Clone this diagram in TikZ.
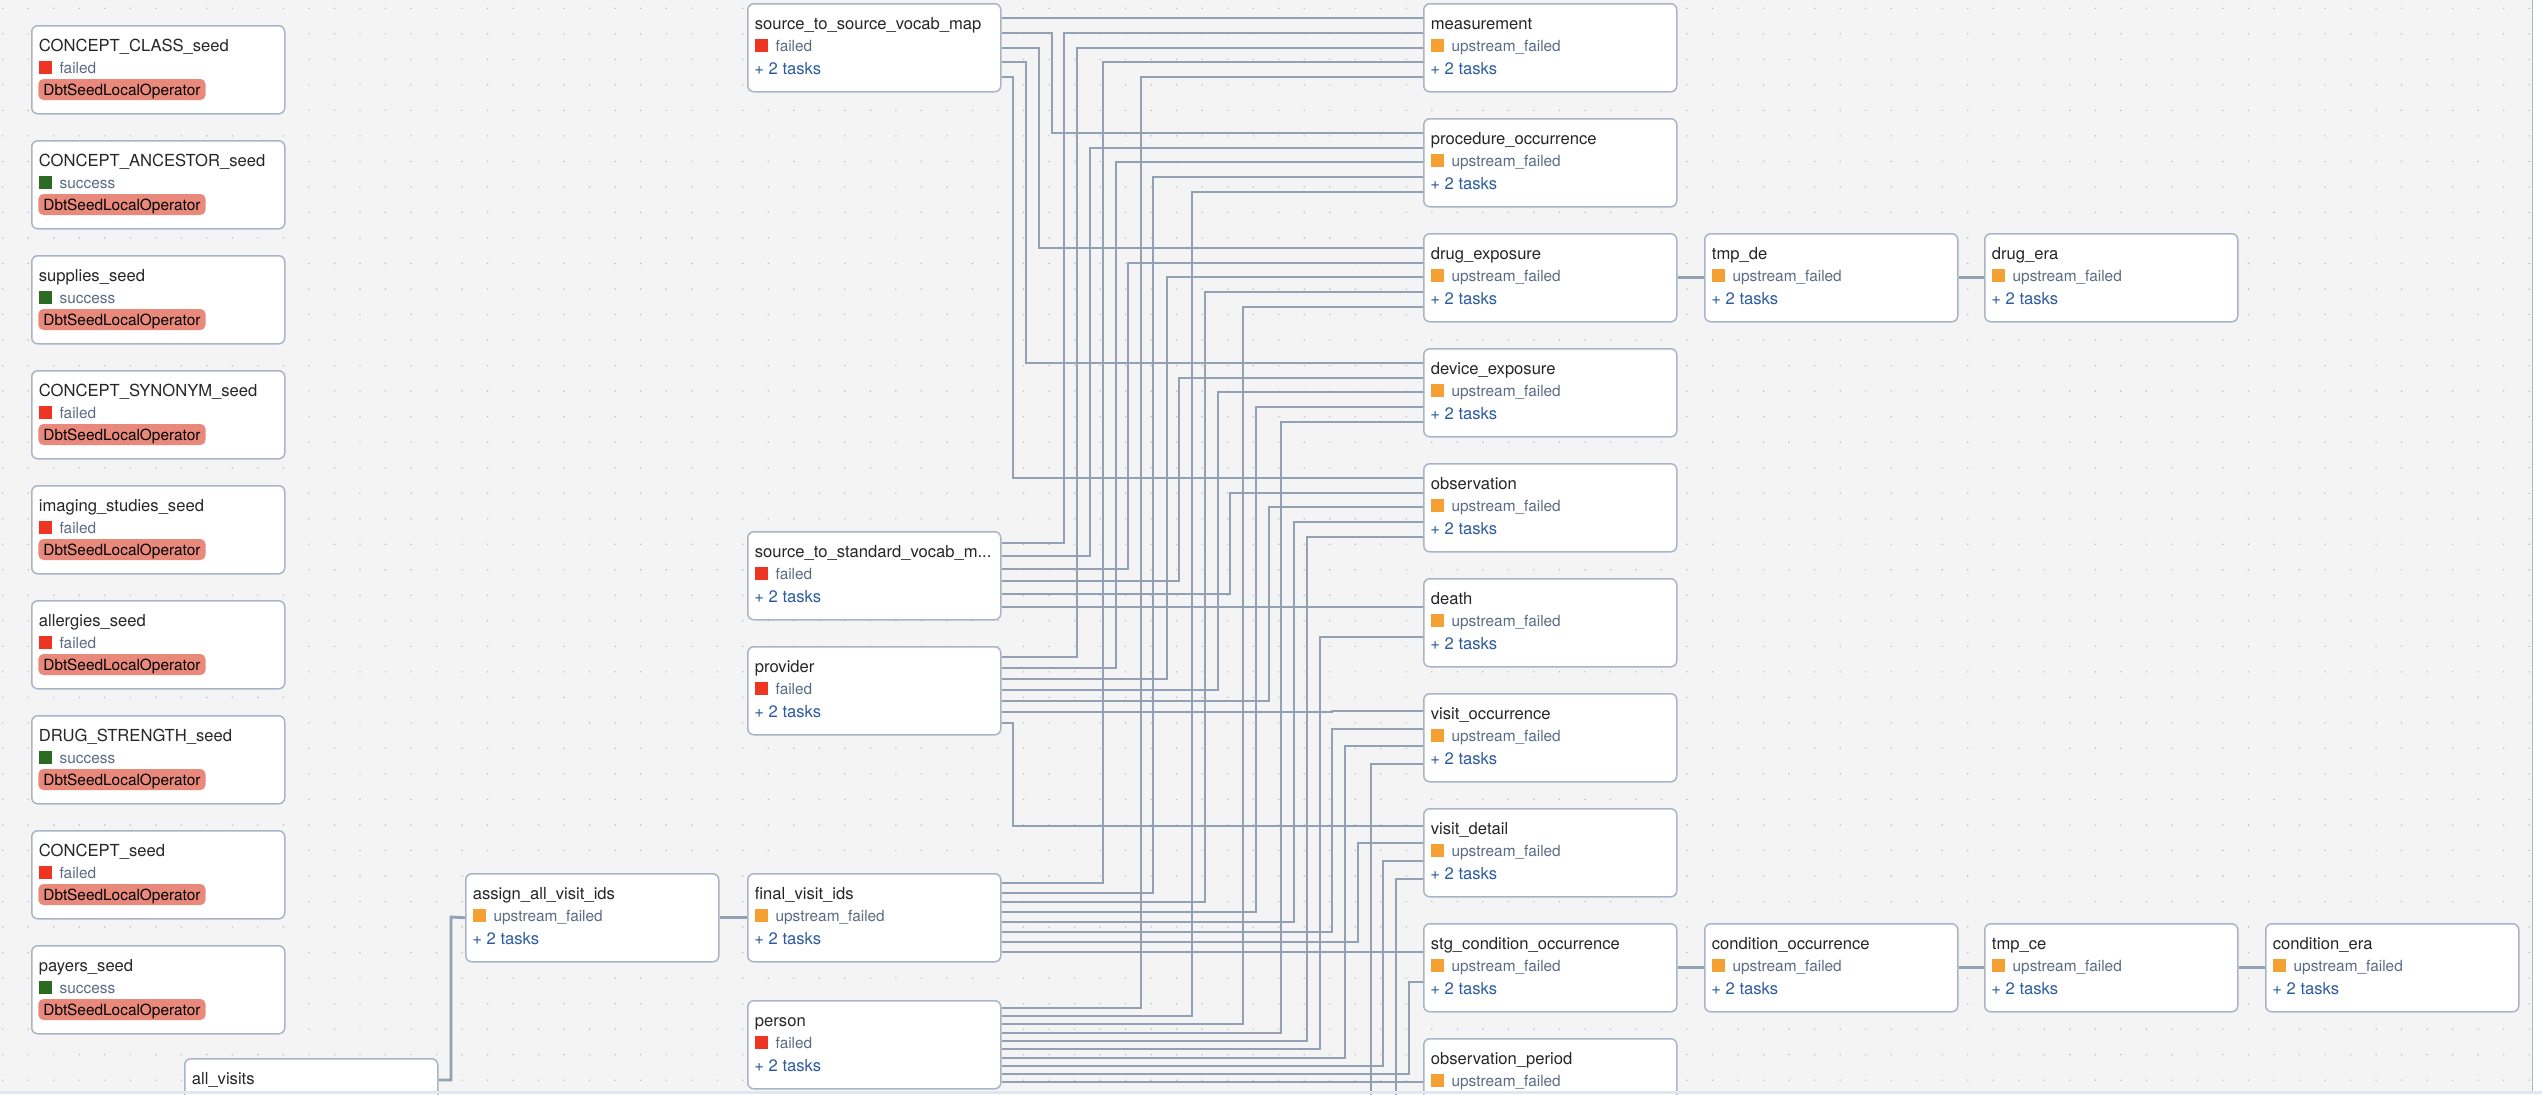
\documentclass[tikz,border=0pt]{standalone}
\usepackage{fontspec}
\setmainfont{TeX Gyre Heros}

\definecolor{canvas}{HTML}{F4F4F4}
\definecolor{griddot}{HTML}{BBBBBB}
\definecolor{boxline}{HTML}{A9B4C6}
\definecolor{wirecol}{HTML}{94A0B4}
\definecolor{titletext}{HTML}{262626}
\definecolor{statetext}{HTML}{5B6B84}
\definecolor{moretext}{HTML}{2C5BA0}
\definecolor{failred}{HTML}{EE3523}
\definecolor{okgreen}{HTML}{2C6B22}
\definecolor{uporange}{HTML}{F5A033}
\definecolor{badgefill}{HTML}{E9897B}
\definecolor{edgeband}{HTML}{E1E7F0}

% state rows
\newcommand{\stFailed}{\textcolor{failred}{\rule[-0.3pt]{6.4pt}{6.4pt}}\hspace{3.7pt}failed}
\newcommand{\stSuccess}{\textcolor{okgreen}{\rule[-0.3pt]{6.4pt}{6.4pt}}\hspace{3.7pt}success}
\newcommand{\stUpstream}{\textcolor{uporange}{\rule[-0.3pt]{6.4pt}{6.4pt}}\hspace{3.7pt}upstream\_failed}

% one task group box: name, top left corner, title, state, style of last row, last row
\newcommand{\tasknode}[6]{%
  \node[task] (#1) at (#2) {};
  \node[tasktitle] (#1-title) at ([shift={(7.5,26.3)}]#1.north west) {#3};
  \node[taskstate] (#1-state) at ([shift={(8,48.5)}]#1.north west) {#4};
  \node[#5] (#1-extra) at ([shift={(7,71)}]#1.north west) {#6};
}

\begin{document}
\begin{tikzpicture}[
    x=0.5pt, y=-0.5pt,
    task/.style={draw=boxline, fill=white, line width=0.75pt, rounded corners=3pt, anchor=north west, minimum width=126.5pt, minimum height=44pt, inner sep=0pt},
    tasktitle/.style={anchor=base west, inner sep=0pt, text=titletext, font=\fontsize{8.3}{10}\selectfont},
    taskstate/.style={anchor=base west, inner sep=0pt, text=statetext, font=\fontsize{7.7}{9}\selectfont},
    taskmore/.style={anchor=base west, inner sep=0pt, text=moretext, font=\fontsize{8.3}{10}\selectfont},
    opbadge/.style={anchor=base west, yshift=0.5pt, fill=badgefill, rounded corners=2.5pt, inner xsep=2.5pt, inner ysep=0pt, text height=8pt, text depth=2.5pt, text=black, font=\fontsize{7.7}{9}\selectfont},
    link/.style={draw=wirecol, line width=1.4pt}
]
\useasboundingbox (0,0) rectangle (2542,1094);

% canvas and dot grid
\fill[canvas] (0,0) rectangle (2542,1094);
\foreach \i in {0,...,99} {
    \foreach \j in {0,...,42} {
        \fill[griddot] (2.7+25.52*\i, 8.3+25.52*\j) circle (0.4pt);
    }
}

% Seeds
\tasknode{c1}{31,25}{CONCEPT\_CLASS\_seed}{\stFailed}{opbadge}{DbtSeedLocalOperator}
\tasknode{c2}{31,140}{CONCEPT\_ANCESTOR\_seed}{\stSuccess}{opbadge}{DbtSeedLocalOperator}
\tasknode{c3}{31,255}{supplies\_seed}{\stSuccess}{opbadge}{DbtSeedLocalOperator}
\tasknode{c4}{31,370}{CONCEPT\_SYNONYM\_seed}{\stFailed}{opbadge}{DbtSeedLocalOperator}
\tasknode{c5}{31,485}{imaging\_studies\_seed}{\stFailed}{opbadge}{DbtSeedLocalOperator}
\tasknode{c6}{31,600}{allergies\_seed}{\stFailed}{opbadge}{DbtSeedLocalOperator}
\tasknode{c7}{31,715}{DRUG\_STRENGTH\_seed}{\stSuccess}{opbadge}{DbtSeedLocalOperator}
\tasknode{c8}{31,830}{CONCEPT\_seed}{\stFailed}{opbadge}{DbtSeedLocalOperator}
\tasknode{c9}{31,945}{payers\_seed}{\stSuccess}{opbadge}{DbtSeedLocalOperator}

% Visits
\node[task] (allv) at (184,1058) {};
\node[tasktitle] (allv-title) at ([shift={(7.5,26.3)}]allv.north west) {all\_visits};
\tasknode{assign}{465,873}{assign\_all\_visit\_ids}{\stUpstream}{taskmore}{+ 2 tasks}

% Staging models
\tasknode{s2s}{747,3}{source\_to\_source\_vocab\_map}{\stFailed}{taskmore}{+ 2 tasks}
\tasknode{s2std}{747,531}{source\_to\_standard\_vocab\_m...}{\stFailed}{taskmore}{+ 2 tasks}
\tasknode{prov}{747,646}{provider}{\stFailed}{taskmore}{+ 2 tasks}
\tasknode{fv}{747,873}{final\_visit\_ids}{\stUpstream}{taskmore}{+ 2 tasks}
\tasknode{person}{747,1000}{person}{\stFailed}{taskmore}{+ 2 tasks}

% CDM tables
\tasknode{meas}{1423,3}{measurement}{\stUpstream}{taskmore}{+ 2 tasks}
\tasknode{proc}{1423,118}{procedure\_occurrence}{\stUpstream}{taskmore}{+ 2 tasks}
\tasknode{drug}{1423,233}{drug\_exposure}{\stUpstream}{taskmore}{+ 2 tasks}
\tasknode{device}{1423,348}{device\_exposure}{\stUpstream}{taskmore}{+ 2 tasks}
\tasknode{obs}{1423,463}{observation}{\stUpstream}{taskmore}{+ 2 tasks}
\tasknode{death}{1423,578}{death}{\stUpstream}{taskmore}{+ 2 tasks}
\tasknode{vocc}{1423,693}{visit\_occurrence}{\stUpstream}{taskmore}{+ 2 tasks}
\tasknode{vdet}{1423,808}{visit\_detail}{\stUpstream}{taskmore}{+ 2 tasks}
\tasknode{stg}{1423,923}{stg\_condition\_occurrence}{\stUpstream}{taskmore}{+ 2 tasks}
\node[task] (obsp) at (1423,1038) {};
\node[tasktitle] (obsp-title) at ([shift={(7.5,26.3)}]obsp.north west) {observation\_period};
\node[taskstate] (obsp-state) at ([shift={(8,48.5)}]obsp.north west) {\stUpstream};

% Eras
\tasknode{tmpde}{1704,233}{tmp\_de}{\stUpstream}{taskmore}{+ 2 tasks}
\tasknode{drugera}{1984,233}{drug\_era}{\stUpstream}{taskmore}{+ 2 tasks}
\tasknode{condocc}{1704,923}{condition\_occurrence}{\stUpstream}{taskmore}{+ 2 tasks}
\tasknode{tmpce}{1984,923}{tmp\_ce}{\stUpstream}{taskmore}{+ 2 tasks}
\tasknode{condera}{2265,923}{condition\_era}{\stUpstream}{taskmore}{+ 2 tasks}

% Connections: source, port y, bend x, target, port y
\foreach \src/\sy/\bx/\dst/\dy in {
    s2s/18/1100/meas/18, s2s/33/1052/proc/133, s2s/48/1039/drug/248,
    s2s/62/1026/device/363, s2s/77/1013/obs/478,
    s2std/543/1064/meas/33, s2std/556/1090/proc/148, s2std/569/1128/drug/263,
    s2std/581/1179/device/378, s2std/594/1230/obs/493, s2std/607/1300/death/607,
    prov/657/1077/meas/48, prov/668/1116/proc/162, prov/679/1167/drug/277,
    prov/690/1218/device/392, prov/701/1269/obs/507, prov/712/1332/vocc/711,
    prov/723/1013/vdet/826,
    fv/883/1103/meas/62, fv/893/1153/proc/177, fv/902/1205/drug/292,
    fv/912/1256/device/407, fv/922/1294/obs/522, fv/932/1332/vocc/729,
    fv/942/1358/vdet/843, fv/952/1400/stg/952,
    person/1008/1141/meas/77, person/1016/1192/proc/192, person/1024/1243/drug/307,
    person/1033/1281/device/422, person/1041/1307/obs/537, person/1049/1320/death/637,
    person/1058/1345/vocc/746, person/1066/1383/vdet/861, person/1074/1409/stg/982,
    person/1082/1415/obsp/1082,
    allv/1102/1371/vocc/764, allv/1124/1396/vdet/879} {
    \draw[link] (\src.east |- 0,\sy) -| (\bx,\dy) -- (\dst.west |- 0,\dy);
}
\draw[link] (allv.east |- 0,1080) -| (451,917) -- (assign.west);
\draw[link] (assign.east) -- (fv.west);
\draw[link] (drug.east) -- (tmpde.west);
\draw[link] (tmpde.east) -- (drugera.west);
\draw[link] (stg.east) -- (condocc.west);
\draw[link] (condocc.east) -- (tmpce.west);
\draw[link] (tmpce.east) -- (condera.west);

% frame of the canvas
\fill[white] (2532,0) rectangle (2542,1094);
\draw[boxline, line width=0.5pt] (2532,0) -- (2532,1091);
\fill[edgeband] (0,1091) rectangle (2542,1094);

\end{tikzpicture}
\end{document}
